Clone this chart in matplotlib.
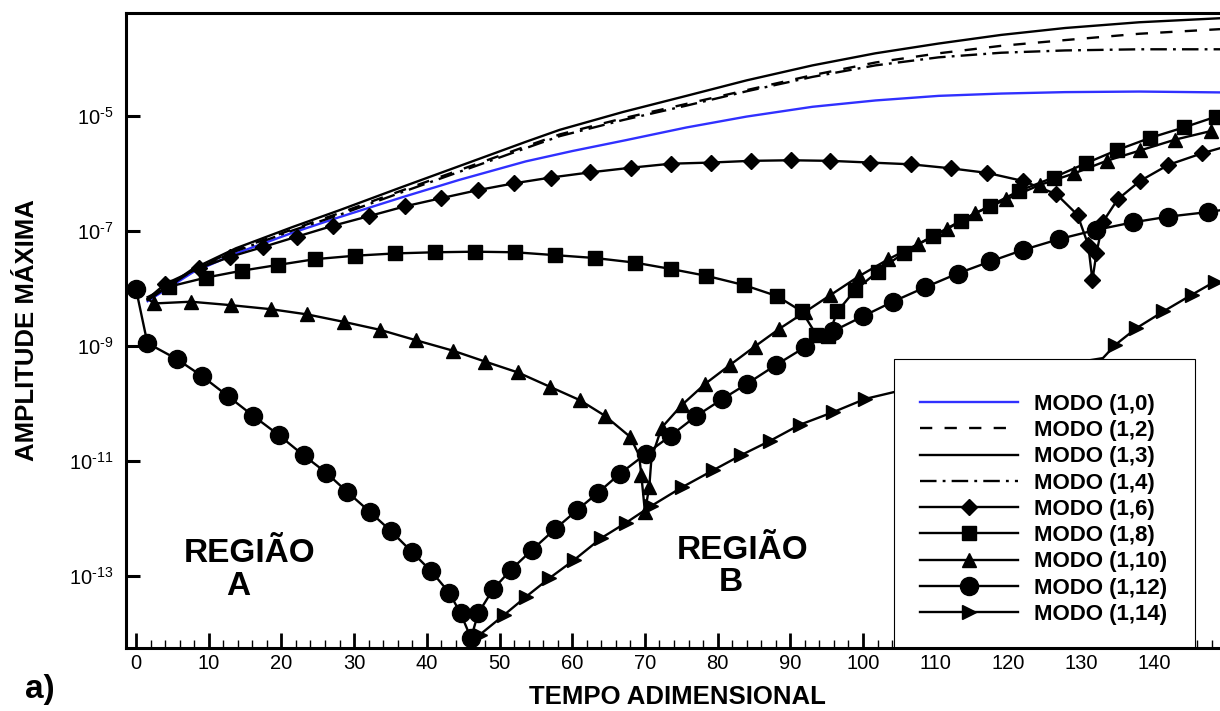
import numpy as np
import matplotlib
matplotlib.use("Agg")
import matplotlib.pyplot as plt
from matplotlib.patches import Rectangle
from matplotlib.ticker import MultipleLocator, NullLocator

plt.rcParams['font.family'] = ['Liberation Sans', 'DejaVu Sans']
plt.rcParams['mathtext.fontset'] = 'custom'
plt.rcParams['mathtext.rm'] = 'Liberation Sans'
plt.rcParams['mathtext.it'] = 'Liberation Sans:italic'
plt.rcParams['mathtext.bf'] = 'Liberation Sans:bold'
plt.rcParams['mathtext.default'] = 'regular'

# ---- curves: dimensionless time and log10 of the maximum amplitude ----
t_1_0 = [1.6, 7.8, 13.75, 21.55, 27.96, 36.7, 44.5, 53.6, 60.0, 67.4, 75.7, 84.0,
         93.05, 101.7, 110.4, 119.0, 127.8, 138.0, 149.1]
log_amp_1_0 = [-8.22, -7.72, -7.39, -7.03, -6.76, -6.41, -6.11, -5.79, -5.61, -5.42,
               -5.20, -5.01, -4.84, -4.73, -4.65, -4.61, -4.585, -4.575, -4.59]

t_smooth = [1.6, 7.8, 13.75, 21.55, 27.96, 36.7, 44.5, 53.6, 58.3, 67.0, 75.7, 84.0,
            93.05, 101.7, 110.4, 119.0, 127.8, 138.0, 149.1]
log_amp_1_2 = [-8.20, -7.68, -7.33, -6.97, -6.69, -6.29, -5.94, -5.53, -5.32, -5.04,
               -4.79, -4.55, -4.29, -4.07, -3.91, -3.78, -3.68, -3.57, -3.49]
log_amp_1_3 = [-8.20, -7.66, -7.30, -6.93, -6.64, -6.23, -5.87, -5.45, -5.24, -4.93,
               -4.65, -4.38, -4.12, -3.91, -3.74, -3.59, -3.47, -3.37, -3.30]
log_amp_1_4 = [-8.20, -7.69, -7.35, -6.99, -6.72, -6.32, -5.97, -5.56, -5.35, -5.07,
               -4.82, -4.57, -4.32, -4.12, -3.98, -3.90, -3.86, -3.84, -3.84]

t_1_6 = [1.6, 4.03, 8.62, 12.93, 17.43, 22.1, 27.06, 32.09, 37.04, 41.95, 47.0, 52.04,
         57.08, 62.49, 68.05, 73.55, 79.05, 84.55, 90.04, 95.49, 100.99, 106.55, 112.05,
         117.09, 122.0, 126.6, 129.5, 130.97, 131.55, 132.1, 133.0, 135.03, 138.1, 142.0,
         146.6, 149.1]
log_amp_1_6 = [-8.18, -7.92, -7.65, -7.45, -7.28, -7.10, -6.91, -6.74, -6.57, -6.43, -6.29,
               -6.17, -6.07, -5.98, -5.90, -5.83, -5.81, -5.78, -5.77, -5.78, -5.81, -5.84,
               -5.91, -5.99, -6.13, -6.36, -6.72, -7.24, -7.85, -7.39, -6.84, -6.45, -6.13,
               -5.85, -5.65, -5.56]

t_1_8 = [1.6, 4.5, 9.63, 14.58, 19.53, 24.62, 30.12, 35.63, 41.13, 46.63, 52.13, 57.63,
         63.14, 68.62, 73.55, 78.47, 83.62, 88.13, 91.6, 93.6, 95.2, 96.47, 98.9, 102.0,
         105.6, 109.6, 113.5, 117.5, 121.5, 126.2, 130.7, 135.0, 139.5, 144.1, 148.6]
log_amp_1_8 = [-8.15, -7.97, -7.81, -7.69, -7.59, -7.49, -7.43, -7.39, -7.37, -7.36, -7.37,
               -7.42, -7.47, -7.55, -7.66, -7.78, -7.94, -8.13, -8.40, -8.81, -8.83, -8.40,
               -8.03, -7.71, -7.38, -7.09, -6.82, -6.56, -6.30, -6.07, -5.82, -5.59, -5.38,
               -5.20, -5.01]

t_1_10 = [1.6, 2.52, 7.57, 13.07, 18.57, 23.52, 28.57, 33.61, 38.51, 43.56, 48.0, 52.53,
          56.95, 61.02, 64.46, 67.97, 69.2, 69.5, 70.0, 70.6, 70.9, 72.3, 75.05, 78.27,
          81.7, 85.1, 88.5, 92.0, 95.45, 99.4, 103.5, 107.5, 111.5, 115.4, 119.7, 124.3,
          129.0, 133.5, 138.1, 142.96, 147.9]
log_amp_1_10 = [-8.18, -8.26, -8.23, -8.29, -8.36, -8.45, -8.58, -8.72, -8.90, -9.08, -9.27,
                -9.46, -9.71, -9.94, -10.21, -10.58, -10.90, -11.24, -11.88, -11.45, -10.95,
                -10.42, -10.03, -9.66, -9.33, -9.01, -8.70, -8.41, -8.12, -7.79, -7.49,
                -7.23, -6.97, -6.69, -6.45, -6.20, -6.00, -5.78, -5.60, -5.41, -5.26]

t_1_12 = [0.0, 1.57, 5.65, 9.04, 12.63, 16.07, 19.65, 23.04, 26.13, 29.08, 32.13, 35.08,
          38.02, 40.63, 43.08, 44.65, 46.08, 47.06, 49.12, 51.58, 54.53, 57.58, 60.62,
          63.56, 66.57, 70.10, 73.54, 77.03, 80.56, 84.0, 88.03, 92.02, 95.91, 100.04,
          104.09, 108.53, 113.0, 117.5, 122.0, 127.0, 132.1, 137.1, 142.0, 147.5, 149.1]
log_amp_1_12 = [-8.01, -8.95, -9.23, -9.52, -9.87, -10.21, -10.55, -10.90, -11.20, -11.54,
                -11.88, -12.22, -12.59, -12.92, -13.29, -13.65, -14.08, -13.65, -13.23,
                -12.89, -12.54, -12.19, -11.86, -11.55, -11.22, -10.88, -10.56, -10.22,
                -9.93, -9.66, -9.33, -9.02, -8.74, -8.48, -8.23, -7.98, -7.74, -7.53,
                -7.33, -7.14, -6.98, -6.85, -6.75, -6.67, -6.64]

t_1_14 = [45.9, 47.3, 50.6, 53.65, 56.84, 60.27, 64.0, 67.45, 70.9, 75.06, 79.4, 83.2,
          87.2, 91.3, 95.9, 100.3, 104.3, 133.0, 134.7, 137.6, 141.3, 145.2, 148.4]
log_amp_1_14 = [-14.27, -14.02, -13.68, -13.36, -13.04, -12.72, -12.34, -12.07, -11.78,
                -11.46, -11.16, -10.90, -10.65, -10.37, -10.15, -9.92, -9.80, -9.21,
                -8.98, -8.69, -8.40, -8.11, -7.88]

labels = ['MODO (1,0)', 'MODO (1,2)', 'MODO (1,3)', 'MODO (1,4)', 'MODO (1,6)',
          'MODO (1,8)', 'MODO (1,10)', 'MODO (1,12)', 'MODO (1,14)']

x_ticks = list(range(0, 141, 10))
y_tick_exponents = [-13, -11, -9, -7, -5]


def amp(log_values):
    return 10.0 ** np.asarray(log_values, dtype=float)


W, H = 1220, 711
fig = plt.figure(figsize=(W / 100, H / 100), dpi=100)
ax = fig.add_axes([126 / W, 1 - 648 / H, (1220 - 126) / W, (648 - 13) / H])
ax.set_yscale('log')
ax.set_xlim(-1.375, 149.1)
ax.set_ylim(10 ** -14.252, 10 ** -3.209)

lw = 1.7
h0, = ax.plot(t_1_0, amp(log_amp_1_0), color='#3030ff', lw=lw)
h2, = ax.plot(t_smooth, amp(log_amp_1_2), color='black', lw=lw, ls=(0, (5.2, 5.2)))
h3, = ax.plot(t_smooth, amp(log_amp_1_3), color='black', lw=lw)
h4, = ax.plot(t_smooth, amp(log_amp_1_4), color='black', lw=lw,
              ls=(0, (7.0, 2.6, 1.2, 2.6)))

h6, = ax.plot(t_1_6, amp(log_amp_1_6), color='black', lw=lw, marker='D', ms=8.5,
              markevery=list(range(1, len(t_1_6) - 1)))
h8, = ax.plot(t_1_8, amp(log_amp_1_8), color='black', lw=lw, marker='s', ms=10.5,
              markevery=list(range(1, len(t_1_8))))
h10_skip = {0, 16, 20}
h10, = ax.plot(t_1_10, amp(log_amp_1_10), color='black', lw=lw, marker='^', ms=10.5,
               markevery=[i for i in range(len(t_1_10)) if i not in h10_skip])
h12, = ax.plot(t_1_12, amp(log_amp_1_12), color='black', lw=lw, marker='o', ms=13,
               markevery=list(range(0, len(t_1_12) - 1)))
h14_skip = {0, 16, 17}
h14, = ax.plot(t_1_14, amp(log_amp_1_14), color='black', lw=lw, marker='>', ms=10,
               markevery=[i for i in range(len(t_1_14)) if i not in h14_skip])

# axes frame and ticks
for side in ('left', 'bottom', 'top'):
    ax.spines[side].set_linewidth(2.2)
    ax.spines[side].set_zorder(10)
ax.spines['right'].set_visible(False)

ax.set_xticks(x_ticks)
ax.xaxis.set_minor_locator(MultipleLocator(2))
ax.set_yticks([10.0 ** e for e in y_tick_exponents])
ax.set_yticklabels([r'$10^{\text{-}%d}$' % abs(e) for e in y_tick_exponents])
ax.yaxis.set_minor_locator(NullLocator())
ax.tick_params(axis='x', which='major', direction='in', length=11, width=2,
               pad=4, labelsize=14.5, top=False)
ax.tick_params(axis='x', which='minor', direction='in', length=6, width=1, top=False)
ax.tick_params(axis='y', which='major', direction='in', length=10, width=2.2,
               pad=9, labelsize=14.5, right=False)

# legend box sitting on the bottom axis
ax.add_patch(Rectangle((894 / W, 1 - 648 / H), (1195 - 894) / W, (648 - 359) / H,
                       transform=fig.transFigure, facecolor='white', edgecolor='black',
                       lw=0.8, zorder=4, clip_on=False))
leg = ax.legend([h0, h2, h3, h4, h6, h8, h10, h12, h14], labels,
                loc='upper left', bbox_to_anchor=(920 / W, 1 - 394 / H),
                bbox_transform=fig.transFigure, frameon=False, borderpad=0,
                borderaxespad=0, handlelength=4.4, handletextpad=0.75,
                labelspacing=0.235, numpoints=1,
                prop={'weight': 'bold', 'size': 16})
leg.set_zorder(6)

# region annotations
ax.text(15.68, 10 ** -12.757, 'REGIÃO', ha='center', va='baseline',
        fontsize=24, weight='bold')
ax.text(14.1, 10 ** -13.33, 'A', ha='center', va='baseline', fontsize=24, weight='bold')
ax.text(83.4, 10 ** -12.70, 'REGIÃO', ha='center', va='baseline',
        fontsize=24, weight='bold')
ax.text(81.8, 10 ** -13.26, 'B', ha='center', va='baseline', fontsize=24, weight='bold')

fig.text(677 / W, 1 - 704 / H, 'TEMPO ADIMENSIONAL', ha='center', va='baseline',
         fontsize=18.5, weight='bold')
fig.text(27.5 / W, 1 - 330.5 / H, 'AMPLITUDE MÁXIMA', rotation=90, ha='center',
         va='center', fontsize=18.5, weight='bold')
fig.text(25 / W, 1 - 698 / H, 'a)', ha='left', va='baseline', fontsize=24, weight='bold')

fig.savefig('out.png', dpi=100)
